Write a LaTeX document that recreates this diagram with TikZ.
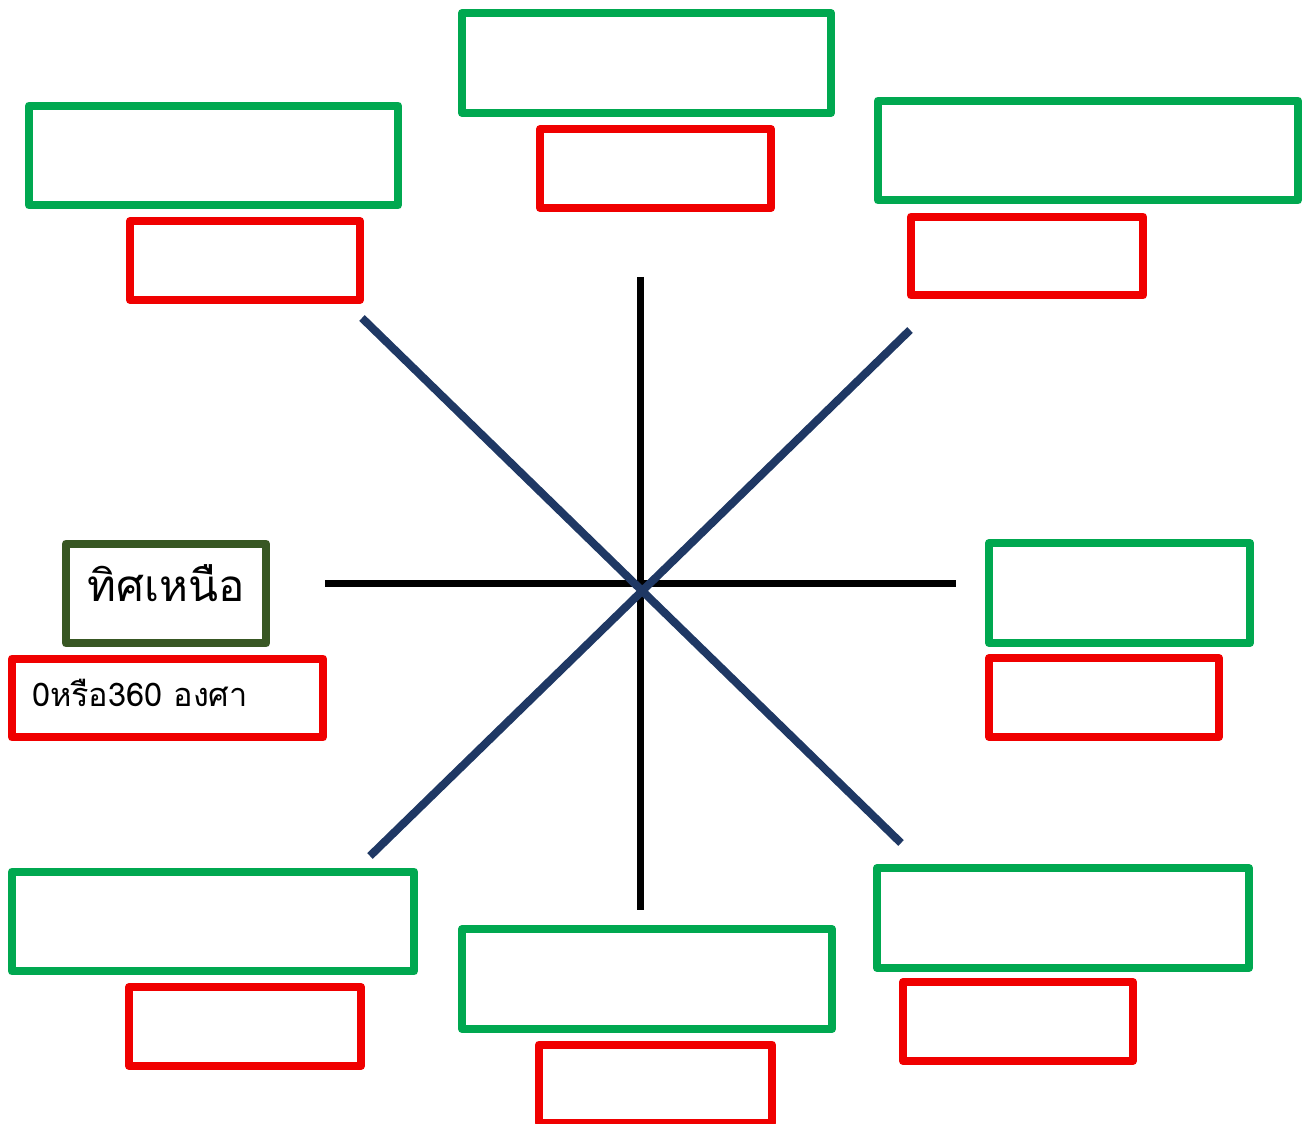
\documentclass[tikz,border=0pt]{standalone}
\usepackage{fontspec}
\newfontfamily\thaifont[Script=Thai]{Loma}
\definecolor{boxgreen}{HTML}{00A850}
\definecolor{boxred}{HTML}{F00000}
\definecolor{northgreen}{HTML}{385723}
\definecolor{diagblue}{HTML}{1F3864}

\begin{document}
\begin{tikzpicture}[x=0.02cm,y=-0.02cm,
  gbox/.style={draw=boxgreen,line width=0.16cm,line join=round,minimum width=#1,minimum height=2cm,inner sep=0pt},
  rbox/.style={draw=boxred,line width=0.16cm,line join=round,minimum width=#1,minimum height=1.58cm,inner sep=0pt},
  compassline/.style={draw=black,line width=0.14cm},
  diagline/.style={draw=diagblue,line width=0.16cm}]
  \useasboundingbox (0,0) rectangle (1308,1124);

  \coordinate (top) at (640,277);
  \coordinate (bottom) at (640,910);
  \coordinate (left) at (325,584);
  \coordinate (right) at (956,584);
  \coordinate (nw) at (362,318);
  \coordinate (se) at (901,843);
  \coordinate (ne) at (910,330);
  \coordinate (sw) at (370,856);
  \draw[compassline] (top) -- (bottom);
  \draw[compassline] (left) -- (right);
  \draw[diagline] (nw) -- (se);
  \draw[diagline] (ne) -- (sw);

  \node[gbox=7.38cm] (topname) at (646.5,63) {};
  \node[rbox=4.62cm] (topdeg) at (655.5,168.5) {};
  \node[gbox=7.38cm] (tlname) at (213.5,155.5) {};
  \node[rbox=4.6cm] (tldeg) at (245,260.5) {};
  \node[gbox=8.4cm] (trname) at (1088,150.5) {};
  \node[rbox=4.64cm] (trdeg) at (1027,256) {};
  \node[draw=northgreen,line width=0.16cm,line join=round,minimum width=4cm,minimum height=2cm,inner sep=0pt,
    text height=0.5cm,text depth=0.16cm,font=\thaifont\fontsize{25}{30}\selectfont] (north) at (166,593.5) {ทิศเหนือ};
  \node[rbox=6.22cm,text width=5.42cm,align=left,inner xsep=0.4cm,text height=0.5cm,text depth=0.14cm,
    font=\thaifont\fontsize{18.5}{22}\selectfont] (northdeg) at (167.5,698) {0หรือ360 องศา};
  \node[gbox=5.22cm] (rname) at (1119.5,593) {};
  \node[rbox=4.6cm] (rdeg) at (1104,697.5) {};
  \node[gbox=8.04cm] (blname) at (213,921.5) {};
  \node[rbox=4.64cm] (bldeg) at (245,1026.5) {};
  \node[gbox=7.4cm] (bname) at (647,979) {};
  \node[rbox=4.66cm] (bdeg) at (655.5,1084) {};
  \node[gbox=7.44cm] (brname) at (1063,918) {};
  \node[rbox=4.6cm] (brdeg) at (1018,1021.5) {};
\end{tikzpicture}
\end{document}
